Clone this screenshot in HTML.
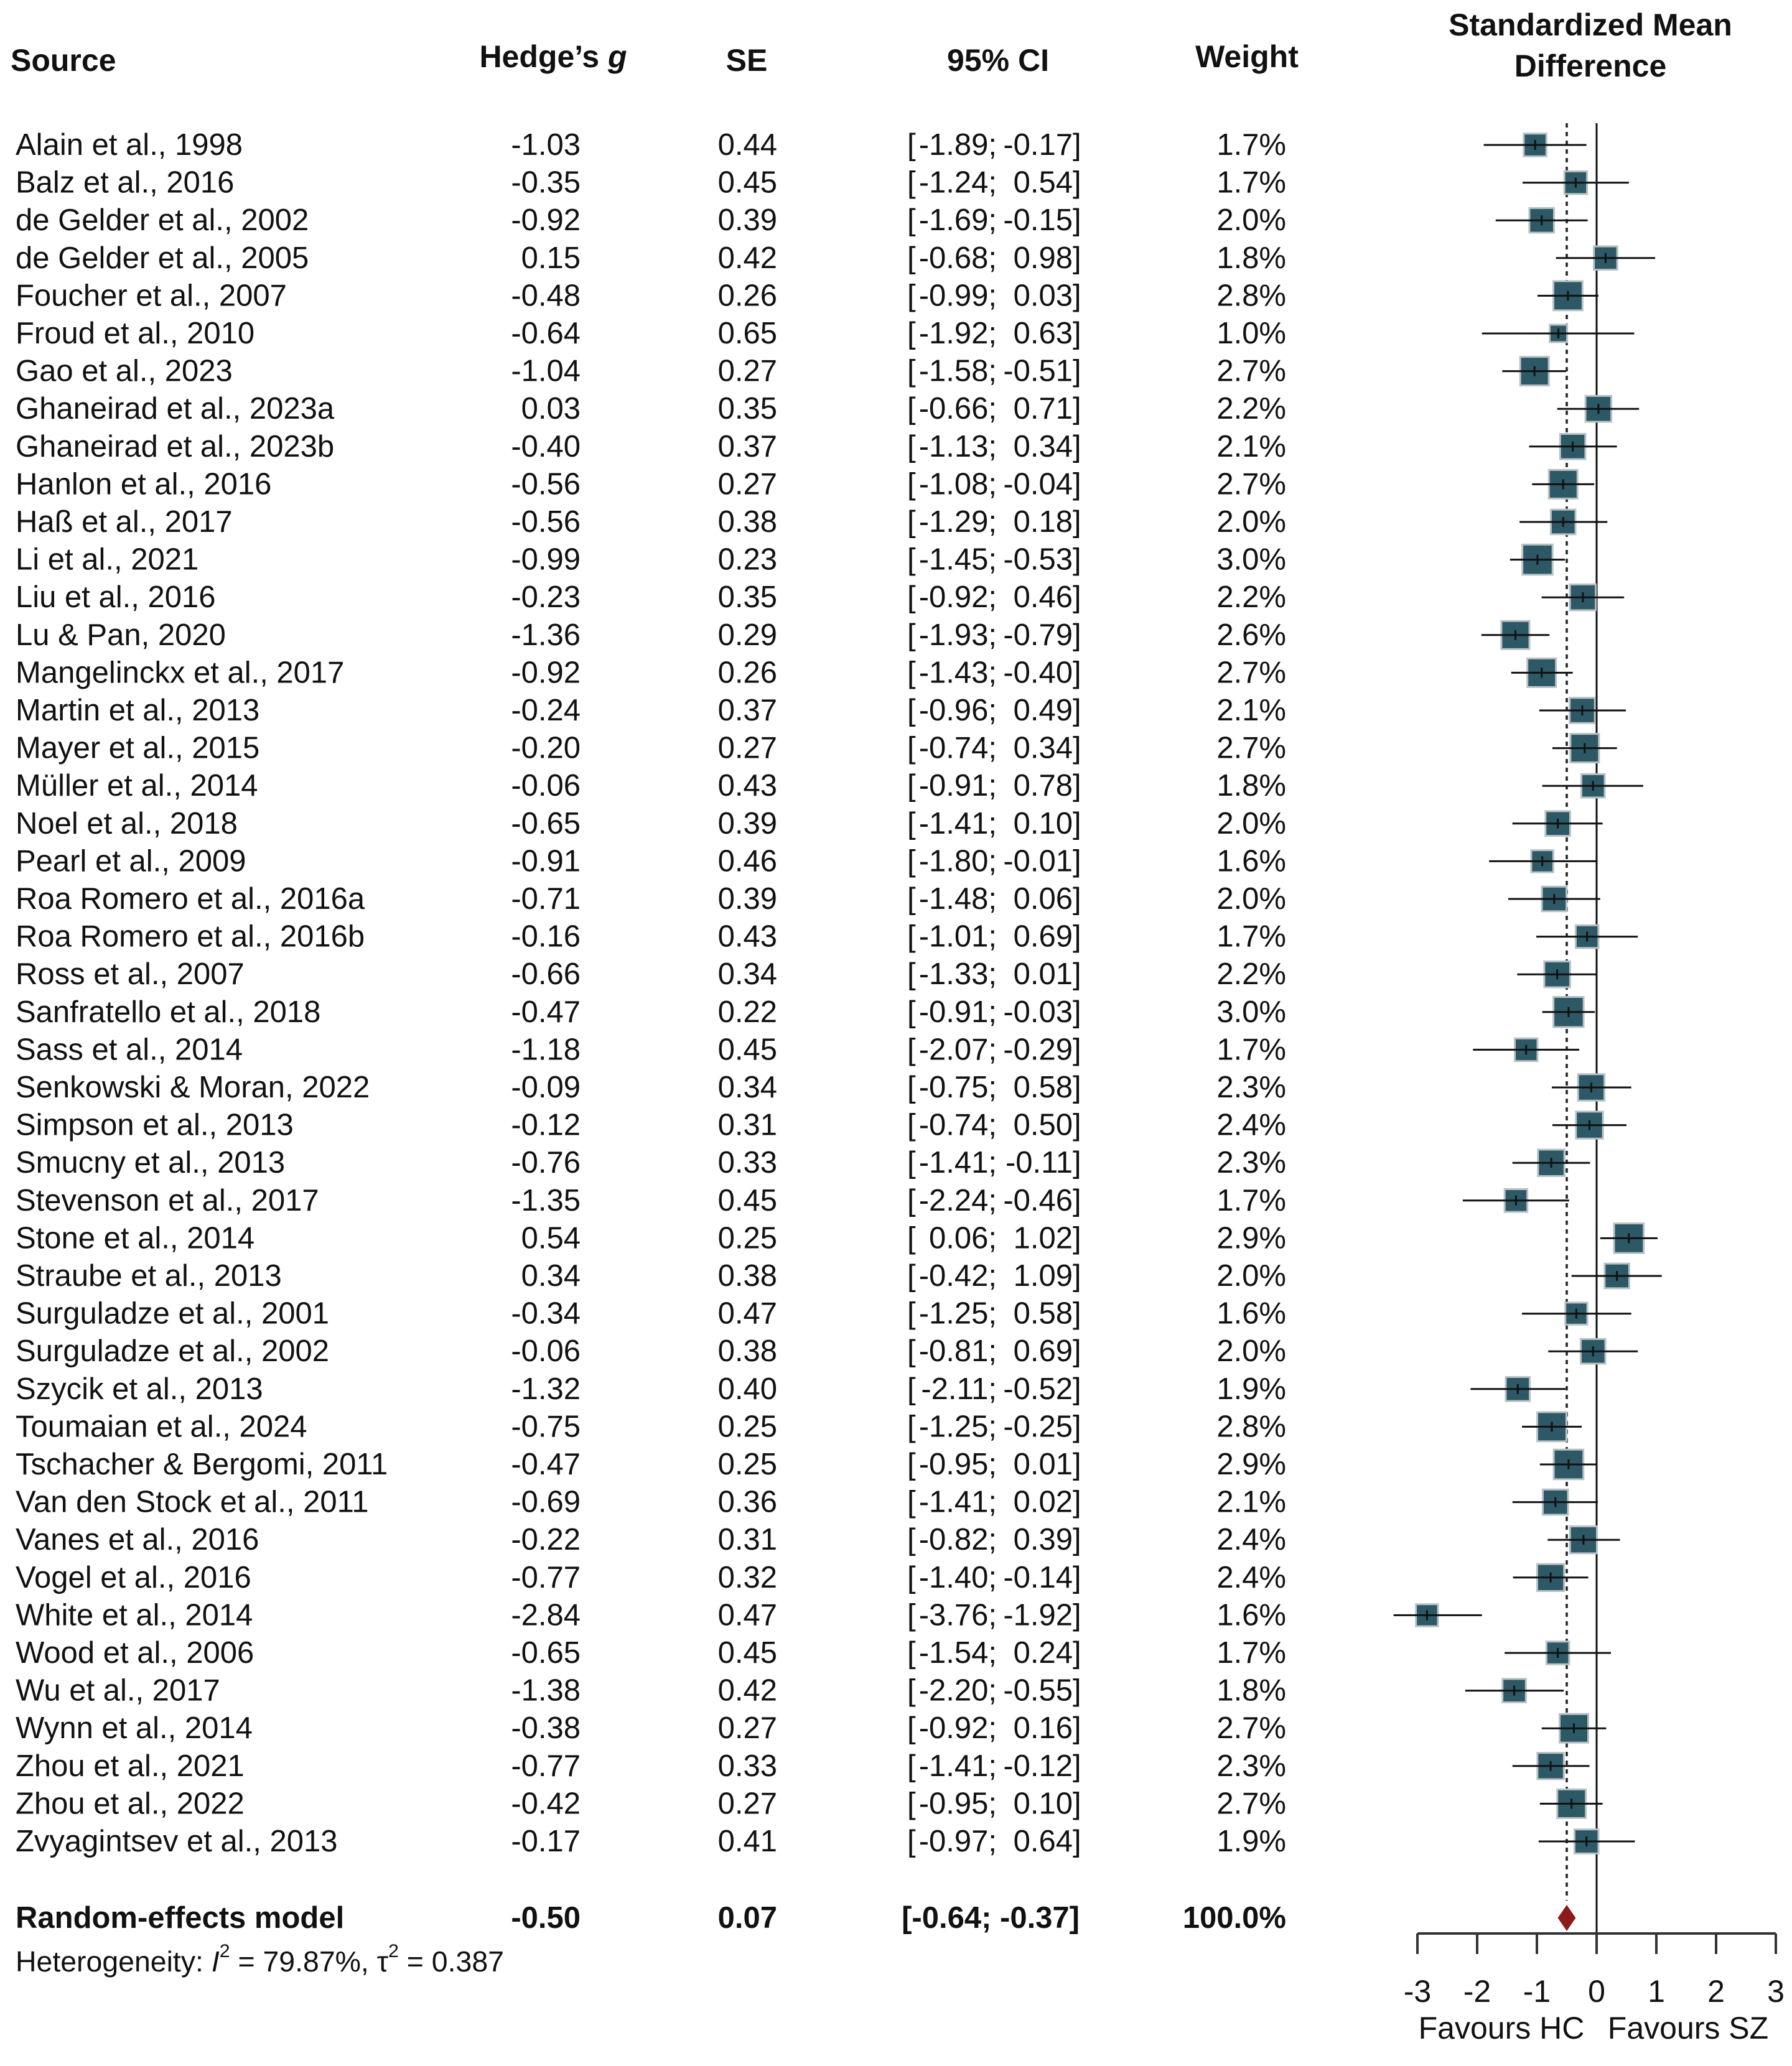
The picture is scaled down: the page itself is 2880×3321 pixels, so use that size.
<!DOCTYPE html>
<html><head><meta charset="utf-8"><style>
html,body{margin:0;padding:0;background:#fff}
svg{display:block}
text{font-family:"Liberation Sans",Arial,sans-serif;fill:#111}
</style></head><body>
<svg id="fp" width="2880" height="3321" viewBox="0 0 2880 3321" xmlns="http://www.w3.org/2000/svg"></svg>
<script>
const studies=["Alain et al., 1998","Balz et al., 2016","de Gelder et al., 2002","de Gelder et al., 2005","Foucher et al., 2007","Froud et al., 2010","Gao et al., 2023","Ghaneirad et al., 2023a","Ghaneirad et al., 2023b","Hanlon et al., 2016","Haß et al., 2017","Li et al., 2021","Liu et al., 2016","Lu & Pan, 2020","Mangelinckx et al., 2017","Martin et al., 2013","Mayer et al., 2015","Müller et al., 2014","Noel et al., 2018","Pearl et al., 2009","Roa Romero et al., 2016a","Roa Romero et al., 2016b","Ross et al., 2007","Sanfratello et al., 2018","Sass et al., 2014","Senkowski & Moran, 2022","Simpson et al., 2013","Smucny et al., 2013","Stevenson et al., 2017","Stone et al., 2014","Straube et al., 2013","Surguladze et al., 2001","Surguladze et al., 2002","Szycik et al., 2013","Toumaian et al., 2024","Tschacher & Bergomi, 2011","Van den Stock et al., 2011","Vanes et al., 2016","Vogel et al., 2016","White et al., 2014","Wood et al., 2006","Wu et al., 2017","Wynn et al., 2014","Zhou et al., 2021","Zhou et al., 2022","Zvyagintsev et al., 2013"];
const g=[-1.03,-0.35,-0.92,0.15,-0.48,-0.64,-1.04,0.03,-0.40,-0.56,-0.56,-0.99,-0.23,-1.36,-0.92,-0.24,-0.20,-0.06,-0.65,-0.91,-0.71,-0.16,-0.66,-0.47,-1.18,-0.09,-0.12,-0.76,-1.35,0.54,0.34,-0.34,-0.06,-1.32,-0.75,-0.47,-0.69,-0.22,-0.77,-2.84,-0.65,-1.38,-0.38,-0.77,-0.42,-0.17];
const se=[0.44,0.45,0.39,0.42,0.26,0.65,0.27,0.35,0.37,0.27,0.38,0.23,0.35,0.29,0.26,0.37,0.27,0.43,0.39,0.46,0.39,0.43,0.34,0.22,0.45,0.34,0.31,0.33,0.45,0.25,0.38,0.47,0.38,0.40,0.25,0.25,0.36,0.31,0.32,0.47,0.45,0.42,0.27,0.33,0.27,0.41];
const lo=[-1.89,-1.24,-1.69,-0.68,-0.99,-1.92,-1.58,-0.66,-1.13,-1.08,-1.29,-1.45,-0.92,-1.93,-1.43,-0.96,-0.74,-0.91,-1.41,-1.80,-1.48,-1.01,-1.33,-0.91,-2.07,-0.75,-0.74,-1.41,-2.24,0.06,-0.42,-1.25,-0.81,-2.11,-1.25,-0.95,-1.41,-0.82,-1.40,-3.76,-1.54,-2.20,-0.92,-1.41,-0.95,-0.97];
const hi=[-0.17,0.54,-0.15,0.98,0.03,0.63,-0.51,0.71,0.34,-0.04,0.18,-0.53,0.46,-0.79,-0.40,0.49,0.34,0.78,0.10,-0.01,0.06,0.69,0.01,-0.03,-0.29,0.58,0.50,-0.11,-0.46,1.02,1.09,0.58,0.69,-0.52,-0.25,0.01,0.02,0.39,-0.14,-1.92,0.24,-0.55,0.16,-0.12,0.10,0.64];
const weight=[1.7,1.7,2.0,1.8,2.8,1.0,2.7,2.2,2.1,2.7,2.0,3.0,2.2,2.6,2.7,2.1,2.7,1.8,2.0,1.6,2.0,1.7,2.2,3.0,1.7,2.3,2.4,2.3,1.7,2.9,2.0,1.6,2.0,1.9,2.8,2.9,2.1,2.4,2.4,1.6,1.7,1.8,2.7,2.3,2.7,1.9];
const pooled=[-0.50,0.07,-0.64,-0.37,100.0];
const ticks=[-3,-2,-1,0,1,2,3];

const svg=document.getElementById('fp');
const NS='http://www.w3.org/2000/svg';
const X0=2566,UNIT=96,XMIN=-3.4,XMAX=3.2;
const xs=v=>X0+v*UNIT;
const Y0=233,DY=60.6;
const ys=i=>Y0+i*DY;
function el(tag,attrs,parent){const e=document.createElementNS(NS,tag);for(const k in attrs)e.setAttribute(k,attrs[k]);(parent||svg).appendChild(e);return e;}
function txt(s,x,y,size,anchor,bold,parent){const t=el('text',{x:x,y:y,'font-size':size,'text-anchor':anchor||'start','dominant-baseline':'central'},parent);if(bold)t.setAttribute('font-weight','bold');t.textContent=s;return t;}
const f2=v=>v.toFixed(2);

let h;
h=txt('Source',17,97,50,'start',true);


h=el('text',{x:889,y:91,'font-size':50,'text-anchor':'middle','dominant-baseline':'central','font-weight':'bold'});
h.innerHTML='Hedge’s <tspan font-style="italic">g</tspan>';


h=txt('SE',1200,97,50,'middle',true);


h=txt('95% CI',1604,97,50,'middle',true);


h=txt('Weight',2004,91,50,'middle',true);


h=txt('Standardized Mean',2556,40,50,'middle',true);


h=txt('Difference',2556,106,50,'middle',true);



let l=el('line',{x1:xs(0),x2:xs(0),y1:198,y2:3110,stroke:'#111','stroke-width':3});


l=el('line',{x1:xs(pooled[0]),x2:xs(pooled[0]),y1:198,y2:3055,stroke:'#222','stroke-width':3.5,'stroke-dasharray':'7,7'});



for(let i=0;i<studies.length;i++){
  const y=ys(i);
  const row=el('g',{});
  
  
  let t=txt(studies[i],25,y,49,'start',false,row);
  
  
  t=txt(f2(g[i]),933,y,49,'end',false,row);
  
  
  t=txt(f2(se[i]),1249,y,49,'end',false,row);
  
  
  t=txt('[',1458,y,49,'start',false,row);
  
  
  t=txt(f2(lo[i])+';',1602,y,49,'end',false,row);
  
  
  t=txt(f2(hi[i]),1724,y,49,'end',false,row);
  
  
  t=txt(']',1724,y,49,'start',false,row);
  
  
  t=txt(weight[i].toFixed(1)+'%',2067,y,49,'end',false,row);
  
  
  const s=28*Math.sqrt(weight[i]);
  const sq=el('rect',{x:xs(g[i])-s/2,y:y-s/2,width:s,height:s,fill:'#2d5866',stroke:'#b8c2c5','stroke-width':3},row);
  
  
  const ci=el('line',{x1:xs(Math.max(lo[i],XMIN)),x2:xs(Math.min(hi[i],XMAX)),y1:y,y2:y,stroke:'#111','stroke-width':3},row);
  
  
  const tk=el('line',{x1:xs(g[i]),x2:xs(g[i]),y1:y-8,y2:y+8,stroke:'#111','stroke-width':3},row);
  
  
}

const py=3083;
let t=txt('Random-effects model',25,py,49,'start',true);


t=txt(f2(pooled[0]),933,py,49,'end',true);


t=txt(f2(pooled[1]),1249,py,49,'end',true);


t=txt('['+f2(pooled[2])+'; '+f2(pooled[3])+']',1735,py,49,'end',true);


t=txt(pooled[4].toFixed(1)+'%',2067,py,49,'end',true);


const dm=el('polygon',{points:[xs(pooled[0])+','+(py-21),xs(pooled[0]-0.15)+','+py,xs(pooled[0])+','+(py+21),xs(pooled[0]+0.15)+','+py].join(' '),fill:'#8b1a1a'});



t=el('text',{x:25,y:3153,'font-size':46,'dominant-baseline':'central',textLength:785,lengthAdjust:'spacingAndGlyphs'});
t.innerHTML='Heterogeneity: <tspan font-style="italic">I</tspan><tspan font-size="30" dy="-17">2</tspan><tspan dy="17"> = 79.87%, τ</tspan><tspan font-size="30" dy="-17">2</tspan><tspan dy="17"> = 0.387</tspan>';



const ax=el('g',{});


el('line',{x1:xs(ticks[0]),x2:xs(ticks[ticks.length-1]),y1:3108,y2:3108,stroke:'#333','stroke-width':4},ax);
ticks.forEach(v=>{
  const tl=el('line',{x1:xs(v),x2:xs(v),y1:3108,y2:3141,stroke:'#333','stroke-width':4},ax);
  
  
  const lb=txt(String(v),xs(v),3201,50,'middle',false,ax);
  
  
});
t=txt('Favours HC',2413,3260,50,'middle');


t=txt('Favours SZ',2713,3260,50,'middle');


</script>
</body></html>
